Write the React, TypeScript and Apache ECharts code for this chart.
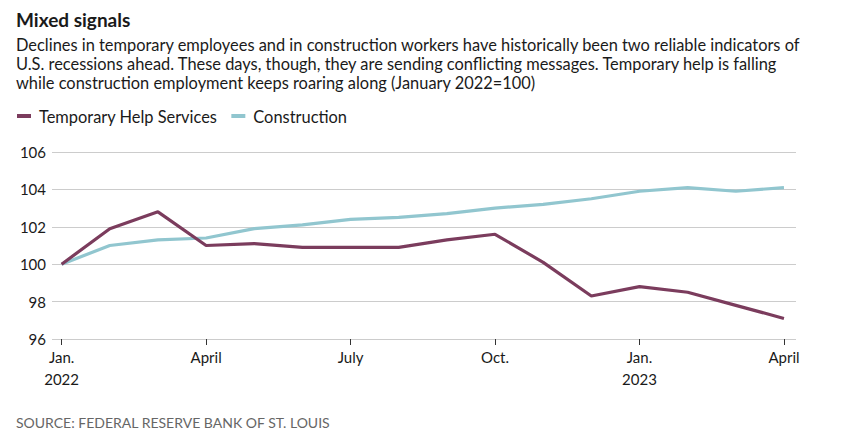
import React, { useEffect, useRef } from "react";
import * as echarts from "echarts";

const months = [0, 1, 2, 3, 4, 5, 6, 7, 8, 9, 10, 11, 12, 13, 14, 15];
const temporaryHelp = [100, 101.9, 102.8, 101.0, 101.1, 100.9, 100.9, 100.9, 101.3, 101.6, 100.1, 98.3, 98.8, 98.5, 97.8, 97.1];
const construction = [100, 101.0, 101.3, 101.4, 101.9, 102.1, 102.4, 102.5, 102.7, 103.0, 103.2, 103.5, 103.9, 104.1, 103.9, 104.1];
const tickPositions = [0, 3, 6, 9, 12, 15];
const tickLabels = ["Jan.\n2022", "April", "July", "Oct.", "Jan.\n2023", "April"];
const seriesNames = ["Temporary Help Services", "Construction"];
const titleText = "Mixed signals";
const subtitleLines = [
  "Declines in temporary employees and in construction workers have historically been two reliable indicators of",
  "U.S. recessions ahead. These days, though, they are sending conflicting messages. Temporary help is falling",
  "while construction employment keeps roaring along (January 2022=100)",
];
const sourceText = "SOURCE: FEDERAL RESERVE BANK OF ST. LOUIS";

const FONT = "Lato, 'Noto Sans', sans-serif";
const PURPLE = "#7b3c5d";
const TEAL = "#91c6cf";

export default function App() {
  const ref = useRef<HTMLDivElement>(null);
  useEffect(() => {
    if (!ref.current) return;
    const chart = echarts.init(ref.current, undefined, { renderer: "svg" });
    const pair = (arr: number[]) => months.map((m, i) => [m, arr[i]]);
    chart.setOption({
      animation: false,
      backgroundColor: "#ffffff",
      textStyle: { fontFamily: FONT },
      graphic: [
        {
          type: "text",
          left: 16,
          top: 10,
          style: { text: titleText, font: `bold 19px ${FONT}`, fill: "#1a1a1a" },
        },
        ...subtitleLines.map((t, i) => ({
          type: "text",
          left: 16,
          top: 36 + i * 19,
          style: { text: t, font: `16.4px ${FONT}`, fill: "#1a1a1a" },
        })),
        {
          type: "text",
          left: 16,
          top: 415,
          style: { text: sourceText, font: `14px ${FONT}`, fill: "#666666" },
        },
      ],
      legend: {
        left: 12,
        top: 103,
        icon: "rect",
        itemWidth: 14,
        itemHeight: 4,
        itemGap: 14,
        data: seriesNames,
        textStyle: { fontSize: 16.4, color: "#1a1a1a", fontFamily: FONT, padding: [0, 0, 0, 3] },
      },
      grid: { left: 52, right: 61, top: 152, bottom: 105 },
      xAxis: {
        type: "value",
        min: -0.2,
        max: 15.25,
        axisLine: { show: false },
        splitLine: { show: false },
        axisTick: {
          show: true,
          customValues: tickPositions,
          length: 6,
          lineStyle: { color: "#333333", width: 1 },
        },
        axisLabel: {
          customValues: tickPositions,
          margin: 7,
          fontSize: 15,
          lineHeight: 22,
          color: "#1a1a1a",
          fontFamily: FONT,
          formatter: (v: number) => tickLabels[tickPositions.indexOf(v)] ?? "",
        },
      },
      yAxis: {
        type: "value",
        min: 96,
        max: 106,
        interval: 2,
        axisLine: { show: false },
        axisTick: { show: false },
        splitLine: { lineStyle: { color: "#cccccc", width: 1 } },
        axisLabel: { margin: 6, fontSize: 15, color: "#1a1a1a", fontFamily: FONT },
      },
      series: [
        {
          name: seriesNames[0],
          type: "line",
          data: pair(temporaryHelp),
          symbol: "none",
          lineStyle: { color: PURPLE, width: 3.2 },
          itemStyle: { color: PURPLE },
          z: 3,
        },
        {
          name: seriesNames[1],
          type: "line",
          data: pair(construction),
          symbol: "none",
          lineStyle: { color: TEAL, width: 3.2 },
          itemStyle: { color: TEAL },
          z: 2,
        },
      ],
    });
    return () => chart.dispose();
  }, []);
  return <div ref={ref} style={{ width: 857, height: 444, position: "absolute", left: 0, top: 0 }} />;
}
